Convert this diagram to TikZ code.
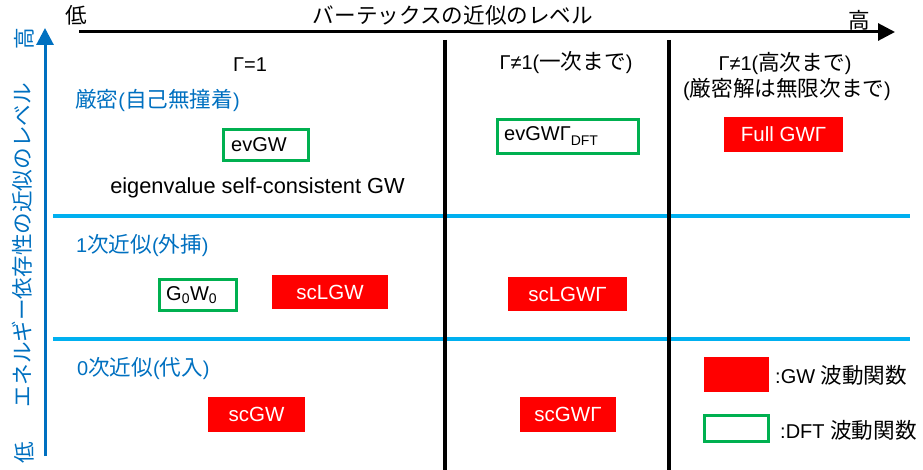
\documentclass[tikz,border=0pt]{standalone}
\usepackage{fontspec}
\setmainfont{Liberation Sans}
\newfontfamily\jp[Scale=1.08]{Noto Sans CJK JP}
\usetikzlibrary{arrows.meta}
\definecolor{boxred}{RGB}{255,0,0}
\definecolor{boxgreen}{RGB}{0,176,80}
\definecolor{axblue}{RGB}{0,112,192}
\definecolor{lineblue}{RGB}{0,176,240}
\newcommand{\J}[1]{{\jp #1}}
\newcommand{\Sb}[1]{\raisebox{-5pt}{\fontsize{14}{16}\selectfont #1}}
\begin{document}
\begin{tikzpicture}[x=1pt,y=-1pt,
  every node/.style={inner sep=0pt, font=\fontsize{20}{24}\selectfont},
  redbox/.style={fill=boxred, text=white, minimum height=34, font=\fontsize{20.5}{24}\selectfont},
  greenbox/.style={draw=boxgreen, line width=3, minimum height=31},
  boxtext/.style={anchor=west, font=\fontsize{20}{24}\selectfont},
  bluetext/.style={text=axblue, anchor=west},
  divider/.style={line width=4, black},
  rowline/.style={line width=3.5, lineblue},
  axis/.style={line width=3, -{Triangle[length=17, width=17]}}
]
\useasboundingbox (0,0) rectangle (923,470);

% row separators
\coordinate (r1a) at (53,216); \coordinate (r1b) at (910,216);
\coordinate (r2a) at (53,339); \coordinate (r2b) at (910,339);
\draw[rowline] (r1a) -- (r1b);
\draw[rowline] (r2a) -- (r2b);

% column separators
\coordinate (c1a) at (445,40); \coordinate (c1b) at (445,470);
\coordinate (c2a) at (669,40); \coordinate (c2b) at (669,470);
\draw[divider] (c1a) -- (c1b);
\draw[divider] (c2a) -- (c2b);

% axes
\coordinate (hs) at (79,32); \coordinate (he) at (895,32);
\draw[axis] (hs) -- (he);
\coordinate (vs) at (45,456); \coordinate (ve) at (45,28);
\draw[axis, axblue] (vs) -- (ve);

\node (xlow) at (76,15) {\J{低}};
\node (xtitle) at (453,15) {\J{バーテックスの近似のレベル}};
\node (xhigh) at (859,20) {\J{高}};
\node[rotate=90, text=axblue] (yhigh) at (24,39) {\J{高}};
\node[rotate=90, text=axblue] (ylow) at (24,453) {\J{低}};
\node[rotate=90, text=axblue] (ytitle) at (22,245) {\J{エネルギー依存性の近似のレベル}};

% column headers
\node (h1) at (250,65) {Γ=1};
\node (h2) at (566,63) {Γ≠1(\J{一次まで})};
\node (h3) at (785,63) {Γ≠1(\J{高次まで})};
\node (h3b) at (787,89) {(\J{厳密解は無限次まで})};

% row headers
\node[bluetext] (row1) at (75,100) {\J{厳密}(\J{自己無撞着})};
\node[bluetext] (row2) at (76,245) {1\J{次近似}(\J{外挿})};
\node[bluetext] (row3) at (77,369) {0\J{次近似}(\J{代入})};

% boxes
\node[greenbox, minimum width=85] (evgw) at (266,145) {};
\node[boxtext] (evgwt) at ([xshift=9]evgw.west) {evGW};
\node[font=\fontsize{21.8}{24}\selectfont] (evlabel) at (257.5,188) {eigenvalue self-consistent GW};

\node[greenbox, minimum width=77] (g0w0) at (198,295) {};
\node[boxtext] (g0w0t) at ([xshift=8]g0w0.west) {G\textsubscript{0}W\textsubscript{0}};
\node[redbox, minimum width=116] (sclgw) at (330,292) {scLGW};
\node[redbox, minimum width=97, minimum height=35] (scgw) at (256.5,414.5) {scGW};

\node[greenbox, minimum width=141, minimum height=34] (evgwg) at (568,136.5) {};
\node[boxtext] (evgwgt) at ([xshift=8]evgwg.west) {evGWΓ\Sb{DFT}};
\node[redbox, minimum width=119] (sclgwg) at (567.5,294) {scLGWΓ};
\node[redbox, minimum width=96, minimum height=35] (scgwg) at (568,414.5) {scGWΓ};

\node[redbox, minimum width=119, minimum height=35] (fullgwg) at (783.5,134.5) {Full GWΓ};

% legend
\node[redbox, minimum width=65, minimum height=35] (legred) at (736.5,374.5) {};
\node[anchor=west] (legredt) at (775,375) {:GW \J{波動関数}};
\node[greenbox, minimum width=64, minimum height=26] (leggreen) at (736.5,428) {};
\node[anchor=west] (leggreent) at (780,430) {:DFT \J{波動関数}};
\end{tikzpicture}
\end{document}
